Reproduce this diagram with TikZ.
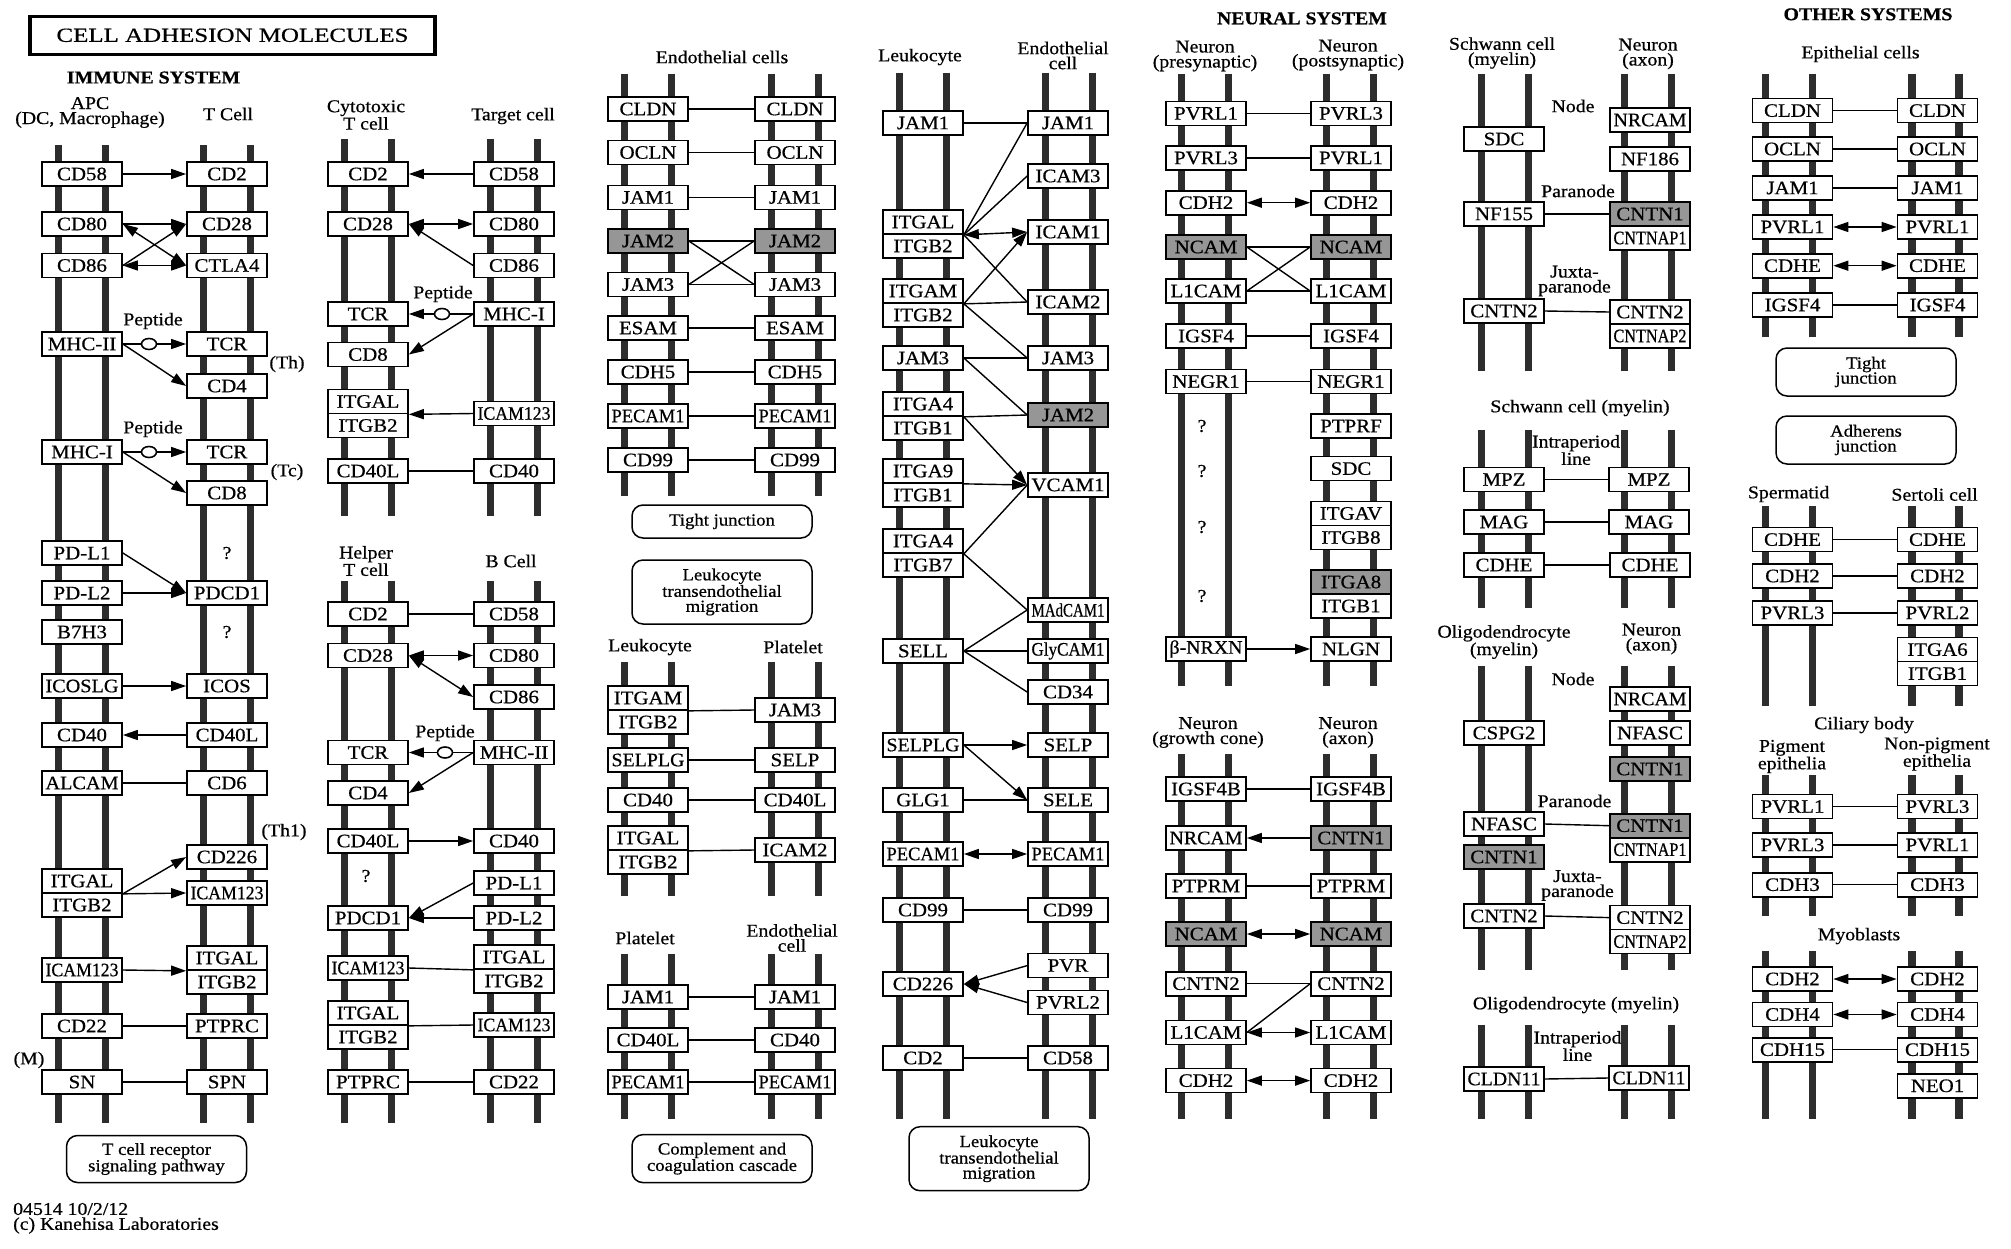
\documentclass[tikz,border=0pt]{standalone}
\usepackage{fontspec}
\setmainfont{Liberation Serif}[FakeStretch=1.1, FakeBold=0.6]
\usetikzlibrary{arrows.meta,shapes.geometric}
\definecolor{kgray}{RGB}{150,150,150}
\definecolor{kbar}{RGB}{45,45,45}
\newsavebox\fbx
\newcommand\fitt[1]{\sbox\fbx{#1}\ifdim\wd\fbx>73pt\resizebox{73pt}{\height}{\usebox\fbx}\else\usebox\fbx\fi}
\newcommand\G[4][gene]{\node[#1] (#2) at (#3) {\fitt{#4}};}
\newcommand\mem[3]{\draw[bar] ({#1-23.5},#2) -- ({#1-23.5},#3); \draw[bar] ({#1+23.5},#2) -- ({#1+23.5},#3);}
\tikzset{
  gene/.style={draw, line width=1.7pt, fill=white, minimum width=80pt, minimum height=24pt, inner sep=0pt, font=\fontsize{19}{19}\selectfont},
  ggene/.style={gene, fill=kgray},
  bar/.style={line width=7.5pt, draw=kbar},
  lab/.style={font=\fontsize{18}{15}\selectfont, align=center, inner sep=0pt},
  hdr/.style={font=\bfseries\fontsize{18}{18}\selectfont, inner sep=0pt},
  pw/.style={draw, line width=1.5pt, rounded corners=11pt, minimum width=180pt, align=center, inner sep=0pt, font=\fontsize{17}{15}\selectfont},
  pep/.style={draw, ellipse, line width=1.6pt, fill=white, minimum width=15pt, minimum height=11pt, inner sep=0pt},
  ln/.style={line width=1.4pt},
  ar/.style={ln, -{Triangle[length=15pt,width=10pt]}},
  dar/.style={ln, {Triangle[length=15pt,width=10pt]}-{Triangle[length=15pt,width=10pt]}},
}
\begin{document}
\begin{tikzpicture}[x=1pt,y=-1pt]
\fill[white] (0,0) rectangle (2011,1248);
\useasboundingbox (0,0) rectangle (2011,1248);
% ---------- membranes ----------
\mem{82}{145}{1123}\mem{227}{145}{1123}
\mem{368}{139}{516}\mem{514}{139}{516}\mem{368}{581}{1123}\mem{514}{581}{1123}
\mem{648}{73.5}{496}\mem{795}{73.5}{496}\mem{648}{662}{896}\mem{795}{662}{896}\mem{648}{954}{1119}\mem{795}{954}{1119}
\mem{923}{72.6}{1119}\mem{1069}{72.6}{1119}
\mem{1205}{73.5}{686}\mem{1350}{73.5}{686}\mem{1205}{754}{1119}\mem{1350}{754}{1119}
\mem{1505}{74}{371}\mem{1648}{74}{371}\mem{1505}{430}{608}\mem{1648}{430}{608}
\mem{1505}{666}{970}\mem{1648}{666}{970}\mem{1505}{1024.5}{1119}\mem{1648}{1024.5}{1119}
\mem{1789}{73.5}{337}\mem{1935.5}{73.5}{337}\mem{1789}{506}{706}\mem{1935.5}{506}{706}
\mem{1789}{775}{916}\mem{1935.5}{775}{916}\mem{1789}{951}{1119}\mem{1935.5}{951}{1119}
% ---------- title and headers ----------
\node[draw, line width=3.2pt, minimum width=405pt, minimum height=38pt, inner sep=0pt] (title) at (232.5,35.3) {\resizebox{352pt}{\height}{\fontsize{20}{20}\selectfont CELL ADHESION MOLECULES}};
\node[hdr] (h1) at (153.5,77.5) {IMMUNE SYSTEM};
\node[hdr] (h2) at (1302,18.4) {NEURAL SYSTEM};
\node[hdr] (h3) at (1868,14.3) {OTHER SYSTEMS};
% ---------- column 1 ----------
\G{a58}{82,174}{CD58} \G{a80}{82,224}{CD80} \G{a86}{82,265.5}{CD86} \G{amhc2}{82,344}{MHC-II}
\G{amhc1}{82,452}{MHC-I} \G{apdl1}{82,553}{PD-L1} \G{apdl2}{82,593}{PD-L2} \G{ab7}{82,632}{B7H3}
\G{aicosl}{82,686}{ICOSLG} \G{a40}{82,735}{CD40} \G{aalc}{82,783}{ALCAM} \G{aitgal}{82,881}{ITGAL}
\G{aitgb}{82,905}{ITGB2} \G{aicam}{82,970}{ICAM123} \G{a22}{82,1026}{CD22} \G{asn}{82,1082}{SN}
\G{t2}{227,174}{CD2} \G{t28}{227,224}{CD28} \G{tctla}{227,265.5}{CTLA4} \G{ttcr1}{227,344}{TCR}
\G{tcd4}{227,386}{CD4} \G{ttcr2}{227,452}{TCR} \G{tcd8}{227,493}{CD8} \G{tpd}{227,593}{PDCD1}
\G{ticos}{227,686}{ICOS} \G{t40l}{227,735}{CD40L} \G{tcd6}{227,783}{CD6} \G{t226}{227,857}{CD226}
\G{ticam}{227,893}{ICAM123} \G{titgal}{227,958}{ITGAL} \G{titgb}{227,982}{ITGB2}
\G{tptprc}{227,1026}{PTPRC} \G{tspn}{227,1082}{SPN}
\node[pep] (pep1) at (149,344) {};
\node[pep] (pep2) at (149,452) {};
\node[lab] (lb1) at (90,112.5) {APC\\(DC, Macrophage)};
\node[lab] (lb2) at (228,114) {T Cell};
\node[lab] (lb3) at (153,321) {Peptide};
\node[lab] (lb4) at (153,429) {Peptide};
\node[lab] (lb5) at (287,364) {(Th)};
\node[lab] (lb6) at (287,472) {(Tc)};
\node[lab] (lb7) at (227,553) {?};
\node[lab] (lb8) at (227,632) {?};
\node[lab] (lb9) at (284,832) {(Th1)};
\node[lab] (lb10) at (29,1060) {(M)};
\node[pw, minimum height=47pt] (pw1) at (156.5,1159) {T cell receptor\\signaling pathway};
\node[lab, anchor=west] (ft1) at (13,1209) {04514 10/2/12};
\node[lab, anchor=west] (ft2) at (13,1225.5) {(c) Kanehisa Laboratories};
% ---------- column 2 ----------
\G{c2}{368,174}{CD2} \G{c28}{368,224}{CD28} \G{ctcr}{368,314}{TCR} \G{c8}{368,354.5}{CD8}
\G{citgal}{368,401.5}{ITGAL} \G{citgb}{368,425.5}{ITGB2} \G{c40l}{368,471}{CD40L}
\G{g58}{514,174}{CD58} \G{g80}{514,224}{CD80} \G{g86}{514,265.5}{CD86} \G{gmhc}{514,314}{MHC-I}
\G{gicam}{514,413.5}{ICAM123} \G{g40}{514,471}{CD40}
\G{h2}{368,614}{CD2} \G{h28}{368,655.5}{CD28} \G{htcr}{368,752.5}{TCR} \G{h4}{368,793}{CD4}
\G{h40l}{368,841}{CD40L} \G{hpd}{368,918}{PDCD1} \G{hicam}{368,968}{ICAM123}
\G{hitgal}{368,1013}{ITGAL} \G{hitgb}{368,1037}{ITGB2} \G{hptprc}{368,1082}{PTPRC}
\G{b58}{514,614}{CD58} \G{b80}{514,655.5}{CD80} \G{b86}{514,697}{CD86} \G{bmhc}{514,752.5}{MHC-II}
\G{b40}{514,841}{CD40} \G{bpdl1}{514,883}{PD-L1} \G{bpdl2}{514,918}{PD-L2}
\G{bitgal}{514,957}{ITGAL} \G{bitgb}{514,981}{ITGB2} \G{bicam}{514,1025}{ICAM123} \G{b22}{514,1082}{CD22}
\node[pep] (pep3) at (442,314) {};
\node[pep] (pep4) at (445,752.5) {};
\node[lab] (lc1) at (366,115) {Cytotoxic\\T cell};
\node[lab] (lc2) at (513,116) {Target cell};
\node[lab] (lc3) at (443,294) {Peptide};
\node[lab] (lc4) at (366,561) {Helper\\T cell};
\node[lab] (lc5) at (511,561) {B Cell};
\node[lab] (lc6) at (445,733) {Peptide};
\node[lab] (lc7) at (366,876) {?};
% ---------- column 3 ----------
\G{el1}{648,109}{CLDN} \G{el2}{648,152.5}{OCLN} \G{el3}{648,197.5}{JAM1} \G[ggene]{el4}{648,241}{JAM2}
\G{el5}{648,284.5}{JAM3} \G{el6}{648,328}{ESAM} \G{el7}{648,372}{CDH5} \G{el8}{648,416}{PECAM1} \G{el9}{648,460}{CD99}
\G{er1}{795,109}{CLDN} \G{er2}{795,152.5}{OCLN} \G{er3}{795,197.5}{JAM1} \G[ggene]{er4}{795,241}{JAM2}
\G{er5}{795,284.5}{JAM3} \G{er6}{795,328}{ESAM} \G{er7}{795,372}{CDH5} \G{er8}{795,416}{PECAM1} \G{er9}{795,460}{CD99}
\G{li1}{648,698}{ITGAM} \G{li2}{648,722}{ITGB2} \G{li3}{648,760}{SELPLG} \G{li4}{648,800}{CD40}
\G{li5}{648,838}{ITGAL} \G{li6}{648,862}{ITGB2}
\G{pl1}{795,710}{JAM3} \G{pl2}{795,760}{SELP} \G{pl3}{795,800}{CD40L} \G{pl4}{795,850}{ICAM2}
\G{q1}{648,997}{JAM1} \G{q2}{648,1040}{CD40L} \G{q3}{648,1082}{PECAM1}
\G{r1}{795,997}{JAM1} \G{r2}{795,1040}{CD40} \G{r3}{795,1082}{PECAM1}
\node[lab] (ld1) at (722,57) {Endothelial cells};
\node[pw, minimum height=33pt] (pw2) at (722,521.5) {Tight junction};
\node[pw, minimum height=64pt] (pw3) at (722,592) {Leukocyte\\transendothelial\\migration};
\node[lab] (ld2) at (650,647) {Leukocyte};
\node[lab] (ld3) at (793,647) {Platelet};
\node[lab] (ld4) at (645,938) {Platelet};
\node[lab] (ld5) at (792,938) {Endothelial\\cell};
\node[pw, minimum height=48pt] (pw4) at (722,1158.6) {Complement and\\coagulation cascade};
% ---------- column 4 ----------
\G{kjam1}{923,123}{JAM1} \G{kitgal}{923,222}{ITGAL} \G{kitgb}{923,246}{ITGB2}
\G{kitgam}{923,291}{ITGAM} \G{kitgb2}{923,315}{ITGB2} \G{kjam3}{923,358}{JAM3}
\G{kitga4}{923,404}{ITGA4} \G{kitgb1}{923,428}{ITGB1} \G{kitga9}{923,471}{ITGA9} \G{kitgb1b}{923,495}{ITGB1}
\G{kitga4b}{923,541}{ITGA4} \G{kitgb7}{923,565}{ITGB7} \G{ksell}{923,651}{SELL}
\G{kselplg}{923,745}{SELPLG} \G{kglg}{923,800}{GLG1} \G{kpec}{923,854}{PECAM1} \G{k99}{923,910}{CD99}
\G{k226}{923,984}{CD226} \G{k2}{923,1058}{CD2}
\G{njam1}{1068,123}{JAM1} \G{nicam3}{1068,176}{ICAM3} \G{nicam1}{1068,232}{ICAM1} \G{nicam2}{1068,302}{ICAM2}
\G{njam3}{1068,358}{JAM3} \G[ggene]{njam2}{1068,415}{JAM2} \G{nvcam}{1068,485}{VCAM1} \G{nmad}{1068,610}{MAdCAM1}
\G{ngly}{1068,651}{GlyCAM1} \G{n34}{1068,692}{CD34} \G{nselp}{1068,745}{SELP} \G{nsele}{1068,800}{SELE}
\G{npec}{1068,854}{PECAM1} \G{n99}{1068,910}{CD99} \G{npvr}{1068,965.6}{PVR} \G{npvrl2}{1068,1002.5}{PVRL2}
\G{n58}{1068,1058}{CD58}
\node[lab] (le1) at (920,57) {Leukocyte};
\node[lab] (le2) at (1063,55.5) {Endothelial\\cell};
\node[pw, minimum height=64pt] (pw5) at (999,1158.7) {Leukocyte\\transendothelial\\migration};
% ---------- column 5 ----------
\G{u1}{1206,113.5}{PVRL1} \G{u2}{1206,158}{PVRL3} \G{u3}{1206,202.7}{CDH2} \G[ggene]{u4}{1206,247}{NCAM}
\G{u5}{1206,291}{L1CAM} \G{u6}{1206,336}{IGSF4} \G{u7}{1206,381.5}{NEGR1} \G{u8}{1206,649}{β-NRXN}
\G{v1}{1351,113.5}{PVRL3} \G{v2}{1351,158}{PVRL1} \G{v3}{1351,202.7}{CDH2} \G[ggene]{v4}{1351,247}{NCAM}
\G{v5}{1351,291}{L1CAM} \G{v6}{1351,336}{IGSF4} \G{v7}{1351,381.5}{NEGR1} \G{v8}{1351,426}{PTPRF}
\G{v9}{1351,468.6}{SDC} \G{v10}{1351,513.5}{ITGAV} \G{v11}{1351,537.5}{ITGB8}
\G[ggene]{v12}{1351,582}{ITGA8} \G{v13}{1351,606}{ITGB1} \G{v14}{1351,649}{NLGN}
\G{w1}{1206,789}{IGSF4B} \G{w2}{1206,838}{NRCAM} \G{w3}{1206,886}{PTPRM} \G[ggene]{w4}{1206,934}{NCAM}
\G{w5}{1206,983.7}{CNTN2} \G{w6}{1206,1032.5}{L1CAM} \G{w7}{1206,1080.6}{CDH2}
\G{x1}{1351,789}{IGSF4B} \G[ggene]{x2}{1351,838}{CNTN1} \G{x3}{1351,886}{PTPRM} \G[ggene]{x4}{1351,934}{NCAM}
\G{x5}{1351,983.7}{CNTN2} \G{x6}{1351,1032.5}{L1CAM} \G{x7}{1351,1080.6}{CDH2}
\node[lab] (lf1) at (1205,56) {Neuron\\(presynaptic)};
\node[lab] (lf2) at (1348,55) {Neuron\\(postsynaptic)};
\node[lab] (lf3) at (1202,426) {?};
\node[lab] (lf4) at (1202,471) {?};
\node[lab] (lf5) at (1202,527) {?};
\node[lab] (lf6) at (1202,596) {?};
\node[lab] (lf7) at (1208,732.5) {Neuron\\(growth cone)};
\node[lab] (lf8) at (1348,732.5) {Neuron\\(axon)};
% ---------- column 6 ----------
\G{s1}{1504,139}{SDC} \G{s2}{1504,214}{NF155} \G{s3}{1504,311}{CNTN2}
\G{s4}{1650,120}{NRCAM} \G{s5}{1650,159}{NF186} \G[ggene]{s6}{1650,214}{CNTN1} \G{s7}{1650,238}{CNTNAP1}
\G{s8}{1650,312}{CNTN2} \G{s9}{1650,336}{CNTNAP2}
\G{m1}{1504,479.5}{MPZ} \G{m2}{1504,522}{MAG} \G{m3}{1504,565}{CDHE}
\G{m4}{1649,479.5}{MPZ} \G{m5}{1649,522}{MAG} \G{m6}{1650,565}{CDHE}
\G{o1}{1504,733}{CSPG2} \G{o2}{1504,824}{NFASC} \G[ggene]{o3}{1504,857}{CNTN1} \G{o11}{1504,916}{CNTN2}
\G{o4}{1650,699}{NRCAM} \G{o5}{1650,733}{NFASC} \G[ggene]{o6}{1650,769}{CNTN1}
\G[ggene]{o7}{1650,825.7}{CNTN1} \G{o8}{1650,849.7}{CNTNAP1} \G{o9}{1650,917.6}{CNTN2} \G{o10}{1650,941.6}{CNTNAP2}
\G{y1}{1504,1079}{CLDN11} \G{y2}{1649,1078}{CLDN11}
\node[lab] (lg1) at (1502,53) {Schwann cell\\(myelin)};
\node[lab] (lg2) at (1648,54) {Neuron\\(axon)};
\node[lab] (lg3) at (1573,106) {Node};
\node[lab] (lg4) at (1578,191) {Paranode};
\node[lab] (lg5) at (1574.5,281) {Juxta-\\paranode};
\node[lab] (lg6) at (1580,408) {Schwann cell (myelin)};
\node[lab] (lg7) at (1576,450) {Intraperiod\\line};
\node[lab] (lg8) at (1504,642) {Oligodendrocyte\\(myelin)};
\node[lab] (lg9) at (1651.5,639) {Neuron\\(axon)};
\node[lab] (lg10) at (1573,679) {Node};
\node[lab] (lg11) at (1574.5,801) {Paranode};
\node[lab] (lg12) at (1577.5,885.5) {Juxta-\\paranode};
\node[lab] (lg13) at (1576,1005) {Oligodendrocyte (myelin)};
\node[lab] (lg14) at (1577.5,1046) {Intraperiod\\line};
% ---------- column 7 ----------
\G{z1}{1792.5,110.6}{CLDN} \G{z2}{1792.5,149}{OCLN} \G{z3}{1792.5,188}{JAM1}
\G{z4}{1792.5,227}{PVRL1} \G{z5}{1792.5,265.7}{CDHE} \G{z6}{1792.5,305}{IGSF4}
\G{zr1}{1937.5,110.6}{CLDN} \G{zr2}{1937.5,149}{OCLN} \G{zr3}{1937.5,188}{JAM1}
\G{zr4}{1937.5,227}{PVRL1} \G{zr5}{1937.5,265.7}{CDHE} \G{zr6}{1937.5,305}{IGSF4}
\G{sp1}{1792.5,539.6}{CDHE} \G{sp2}{1792.5,576}{CDH2} \G{sp3}{1792.5,613}{PVRL3}
\G{st1}{1937.5,539.6}{CDHE} \G{st2}{1937.5,576}{CDH2} \G{st3}{1937.5,613}{PVRL2}
\G{st4}{1937.5,649.6}{ITGA6} \G{st5}{1937.5,673.6}{ITGB1}
\G{ci1}{1792.5,806.6}{PVRL1} \G{ci2}{1792.5,845}{PVRL3} \G{ci3}{1792.5,884.7}{CDH3}
\G{cj1}{1937.5,806.6}{PVRL3} \G{cj2}{1937.5,845}{PVRL1} \G{cj3}{1937.5,884.7}{CDH3}
\G{my1}{1792.5,979}{CDH2} \G{my2}{1792.5,1014.5}{CDH4} \G{my3}{1792.5,1049.7}{CDH15}
\G{my4}{1937.5,979}{CDH2} \G{my5}{1937.5,1014.5}{CDH4} \G{my6}{1937.5,1049.7}{CDH15} \G{my7}{1937.5,1085.8}{NEO1}
\node[lab] (lh1) at (1860.5,54) {Epithelial cells};
\node[pw, minimum height=48pt] (pw6) at (1866,372) {Tight\\junction};
\node[pw, minimum height=48pt] (pw7) at (1866,440) {Adherens\\junction};
\node[lab] (lh2) at (1788.6,494) {Spermatid};
\node[lab] (lh3) at (1934.6,494.5) {Sertoli cell};
\node[lab] (lh4) at (1864,725) {Ciliary body};
\node[lab] (lh5) at (1792,756.5) {Pigment\\epithelia};
\node[lab] (lh6) at (1937,754) {Non-pigment\\epithelia};
\node[lab] (lh7) at (1859,936) {Myoblasts};
% ---------- connectors column 1 ----------
\draw[ar] (a58.east) -- (t2.west);
\draw[ar] (a80.east) -- (t28.west);
\draw[dar] (a80.east) -- (tctla.west);
\draw[ar] (a86.east) -- (t28.west);
\draw[dar] (a86.east) -- (tctla.west);
\draw[ln] (amhc2.east) -- (pep1.west);
\draw[ar] (pep1.east) -- (ttcr1.west);
\draw[ar] (amhc2.east) -- (tcd4.west);
\draw[ln] (amhc1.east) -- (pep2.west);
\draw[ar] (pep2.east) -- (ttcr2.west);
\draw[ar] (amhc1.east) -- (tcd8.west);
\draw[ar] (apdl1.east) -- (tpd.west);
\draw[ar] (apdl2.east) -- (tpd.west);
\draw[ar] (aicosl.east) -- (ticos.west);
\draw[ar] (t40l.west) -- (a40.east);
\draw[ln] (aalc.east) -- (tcd6.west);
\draw[ar] (aitgal.south east) -- (t226.west);
\draw[ar] (aitgal.south east) -- (ticam.west);
\draw[ar] (aicam.east) -- (titgal.south west);
\draw[ln] (a22.east) -- (tptprc.west);
\draw[ln] (asn.east) -- (tspn.west);
% ---------- connectors column 2 ----------
\draw[ar] (g58.west) -- (c2.east);
\draw[dar] (c28.east) -- (g80.west);
\draw[ar] (g86.west) -- (c28.east);
\draw[ln] (gmhc.west) -- (pep3.east);
\draw[ar] (pep3.west) -- (ctcr.east);
\draw[ar] (gmhc.west) -- (c8.east);
\draw[ar] (gicam.west) -- (citgal.south east);
\draw[ln] (c40l.east) -- (g40.west);
\draw[ln] (h2.east) -- (b58.west);
\draw[dar] (h28.east) -- (b80.west);
\draw[dar] (h28.east) -- (b86.west);
\draw[ln] (bmhc.west) -- (pep4.east);
\draw[ar] (pep4.west) -- (htcr.east);
\draw[ar] (bmhc.west) -- (h4.east);
\draw[ar] (h40l.east) -- (b40.west);
\draw[ar] (bpdl1.west) -- (hpd.east);
\draw[ar] (bpdl2.west) -- (hpd.east);
\draw[ln] (hicam.east) -- (bitgal.south west);
\draw[ln] (hitgal.south east) -- (bicam.west);
\draw[ln] (hptprc.east) -- (b22.west);
% ---------- connectors column 3 ----------
\foreach \i in {1,...,9} {\draw[ln] (el\i.east) -- (er\i.west);}
\draw[ln] (el4.east) -- (er5.west);
\draw[ln] (el5.east) -- (er4.west);
\draw[ln] (li1.south east) -- (pl1.west);
\draw[ln] (li3.east) -- (pl2.west);
\draw[ln] (li4.east) -- (pl3.west);
\draw[ln] (li5.south east) -- (pl4.west);
\draw[ln] (q1.east) -- (r1.west);
\draw[ln] (q2.east) -- (r2.west);
\draw[ln] (q3.east) -- (r3.west);
% ---------- connectors column 4 ----------
\draw[ln] (kjam1.east) -- (njam1.west);
\draw[ln] (kitgal.south east) -- (njam1.west);
\draw[ln] (kitgal.south east) -- (nicam3.west);
\draw[dar] (kitgal.south east) -- (nicam1.west);
\draw[ln] (kitgal.south east) -- (nicam2.west);
\draw[ar] (kitgam.south east) -- (nicam1.west);
\draw[ln] (kitgam.south east) -- (nicam2.west);
\draw[ln] (kitgam.south east) -- (njam3.west);
\draw[ln] (kjam3.east) -- (njam3.west);
\draw[ln] (kjam3.east) -- (njam2.west);
\draw[ln] (kitga4.south east) -- (njam2.west);
\draw[ar] (kitga4.south east) -- (nvcam.west);
\draw[ar] (kitga9.south east) -- (nvcam.west);
\draw[ln] (kitga4b.south east) -- (nvcam.west);
\draw[ln] (kitga4b.south east) -- (nmad.west);
\draw[ln] (ksell.east) -- (nmad.west);
\draw[ln] (ksell.east) -- (ngly.west);
\draw[ln] (ksell.east) -- (n34.west);
\draw[ar] (kselplg.east) -- (nselp.west);
\draw[ar] (kselplg.east) -- (nsele.west);
\draw[ln] (kglg.east) -- (nsele.west);
\draw[dar] (kpec.east) -- (npec.west);
\draw[ln] (k99.east) -- (n99.west);
\draw[ar] (npvr.west) -- (k226.east);
\draw[ar] (npvrl2.west) -- (k226.east);
\draw[ln] (k2.east) -- (n58.west);
% ---------- connectors column 5 ----------
\draw[ln] (u1.east) -- (v1.west);
\draw[ln] (u2.east) -- (v2.west);
\draw[dar] (u3.east) -- (v3.west);
\draw[ln] (u4.east) -- (v4.west);
\draw[ln] (u5.east) -- (v5.west);
\draw[ln] (u4.east) -- (v5.west);
\draw[ln] (u5.east) -- (v4.west);
\draw[ln] (u6.east) -- (v6.west);
\draw[ln] (u7.east) -- (v7.west);
\draw[ar] (u8.east) -- (v14.west);
\draw[ln] (w1.east) -- (x1.west);
\draw[ar] (x2.west) -- (w2.east);
\draw[ln] (w3.east) -- (x3.west);
\draw[dar] (w4.east) -- (x4.west);
\draw[ln] (w5.east) -- (x5.west);
\draw[ln] (x5.west) -- (w6.east);
\draw[dar] (w6.east) -- (x6.west);
\draw[dar] (w7.east) -- (x7.west);
% ---------- connectors column 6 ----------
\draw[ln] (s2.east) -- (s6.west);
\draw[ln] (s3.east) -- (s8.west);
\draw[ln] (m1.east) -- (m4.west);
\draw[ln] (m2.east) -- (m5.west);
\draw[ln] (m3.east) -- (m6.west);
\draw[ln] (o2.east) -- (o7.west);
\draw[ln] (o11.east) -- (o9.west);
\draw[ln] (y1.east) -- (y2.west);
% ---------- connectors column 7 ----------
\draw[ln] (z1.east) -- (zr1.west);
\draw[ln] (z2.east) -- (zr2.west);
\draw[ln] (z3.east) -- (zr3.west);
\draw[dar] (z4.east) -- (zr4.west);
\draw[dar] (z5.east) -- (zr5.west);
\draw[ln] (z6.east) -- (zr6.west);
\draw[ln] (sp1.east) -- (st1.west);
\draw[ln] (sp2.east) -- (st2.west);
\draw[ln] (sp3.east) -- (st3.west);
\draw[ln] (ci1.east) -- (cj1.west);
\draw[ln] (ci2.east) -- (cj2.west);
\draw[ln] (ci3.east) -- (cj3.west);
\draw[dar] (my1.east) -- (my4.west);
\draw[dar] (my2.east) -- (my5.west);
\draw[ln] (my3.east) -- (my6.west);
\end{tikzpicture}
\end{document}
